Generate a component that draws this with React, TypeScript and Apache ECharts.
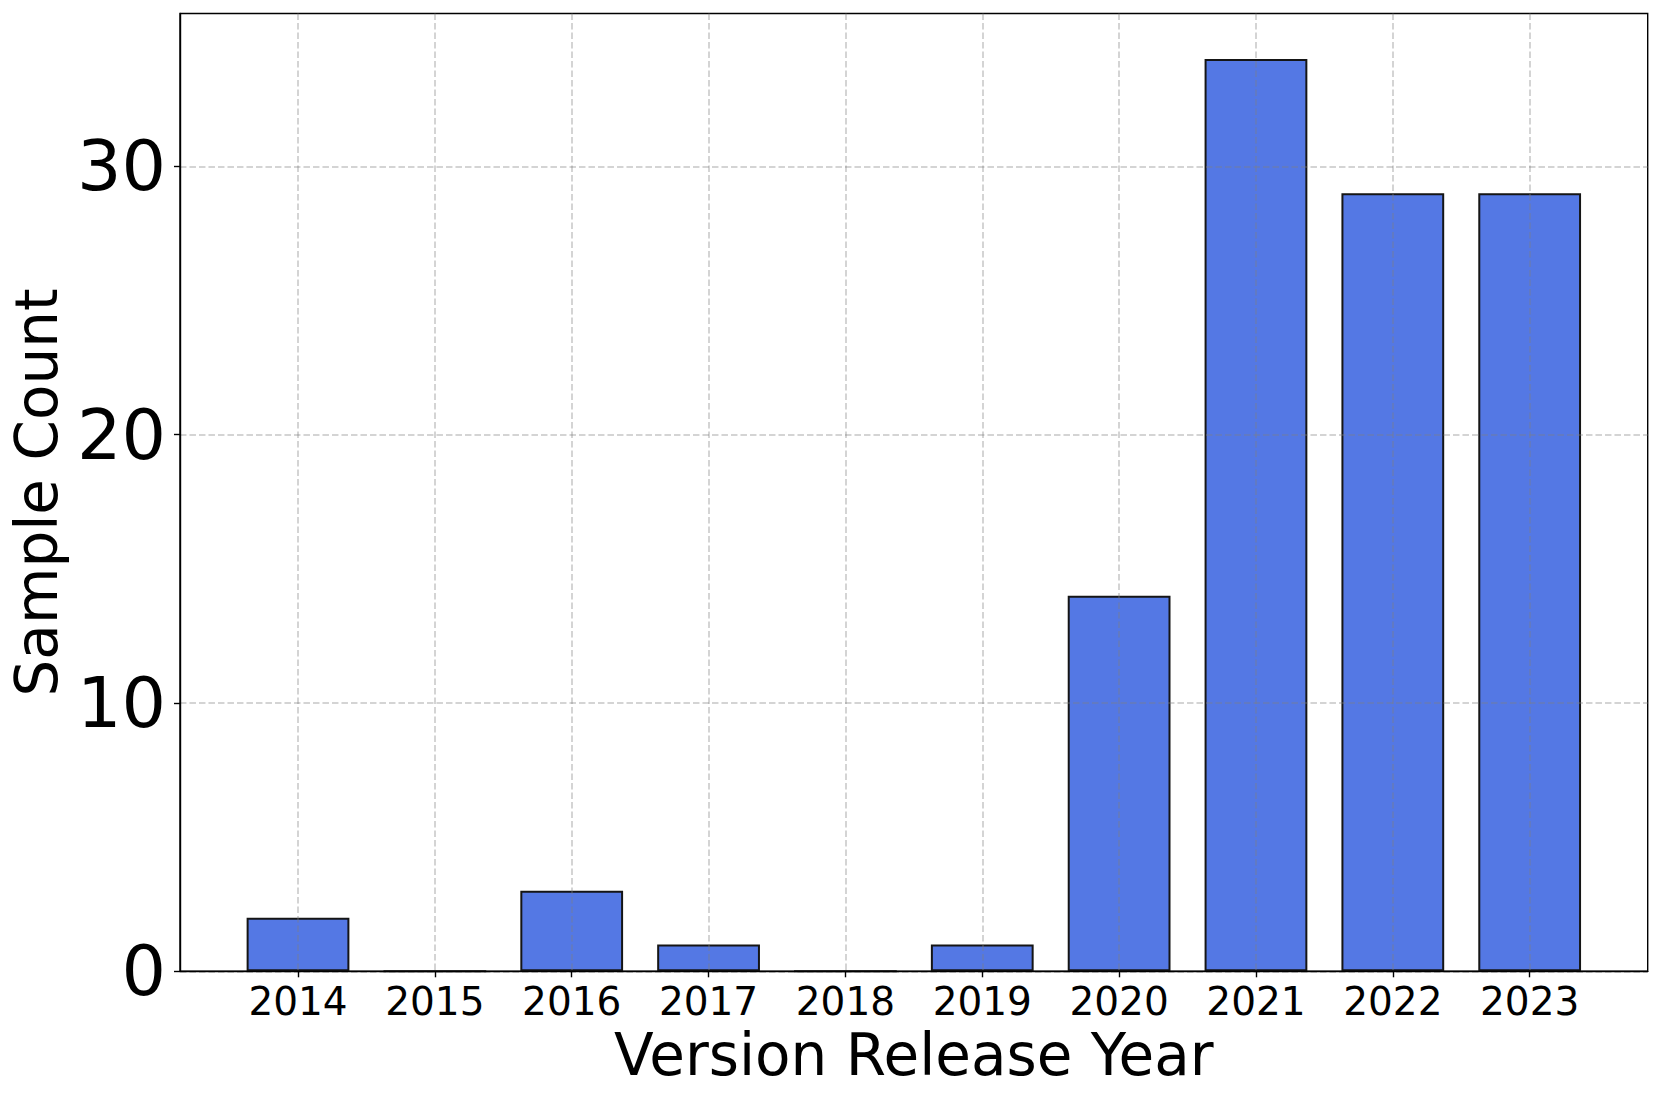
import React, { useEffect, useRef } from "react";
import * as echarts from "echarts";

const years = ["2014", "2015", "2016", "2017", "2018", "2019", "2020", "2021", "2022", "2023"];
const sampleCounts = [2, 0, 3, 1, 0, 1, 14, 34, 29, 29];
const yTicks = [0, 10, 20, 30];

const W = 1662;
const H = 1101;
const GRID_LEFT = 178;
const GRID_TOP = 13.5;
const GRID_W = 1469.7;
const GRID_H = 957.8;
const BAR_FRAC = 0.75;

export default function App() {
  const ref = useRef<HTMLDivElement>(null);
  useEffect(() => {
    if (!ref.current) return;
    const chart = echarts.init(ref.current, undefined, { renderer: "svg" });
    const n = years.length;
    const half = BAR_FRAC / 2;
    const span = (n - 1) + 2 * half;
    const xmin = -half - 0.05 * span;
    const xmax = n - 1 + half + 0.05 * span;
    const ymax = Math.max(...sampleCounts) * 1.05;
    const idx = years.map((_, i) => i);
    const font = "DejaVu Sans";
    const gridLine = {
      show: true,
      lineStyle: { color: "rgba(128,128,128,0.45)", width: 1.5, type: [6.5, 3] as any },
    };
    chart.setOption({
      animation: false,
      backgroundColor: "#ffffff",
      grid: {
        left: GRID_LEFT,
        top: GRID_TOP,
        width: GRID_W,
        height: GRID_H,
        containLabel: false,
        show: true,
        borderColor: "#000",
        borderWidth: 1.4,
        backgroundColor: "transparent",
      },
      xAxis: {
        type: "value",
        min: xmin,
        max: xmax,
        minInterval: 1,
        maxInterval: 1,
        z: 5,
        name: "Version Release Year",
        nameLocation: "middle",
        nameGap: 52,
        nameTextStyle: { fontFamily: font, fontSize: 58, color: "#000" },
        axisLine: { show: true, onZero: false, lineStyle: { color: "#000", width: 1.4 } },
        axisTick: { show: true, customValues: idx, length: 6, lineStyle: { color: "#000", width: 1.4 } },
        axisLabel: {
          customValues: idx,
          margin: 11,
          fontFamily: font,
          fontSize: 39,
          color: "#000",
          formatter: (v: number) => {
            const r = Math.round(v);
            return Math.abs(v - r) < 1e-6 && years[r] ? years[r] : "";
          },
        },
        splitLine: gridLine,
      },
      yAxis: {
        type: "value",
        min: 0,
        max: ymax,
        interval: 10,
        z: 5,
        name: "Sample Count",
        nameLocation: "middle",
        nameGap: 108,
        nameTextStyle: { fontFamily: font, fontSize: 58, color: "#000" },
        axisLine: { show: true, onZero: false, lineStyle: { color: "#000", width: 1.4 } },
        axisTick: { show: true, customValues: yTicks, length: 6, lineStyle: { color: "#000", width: 1.4 } },
        axisLabel: {
          customValues: yTicks,
          margin: 14,
          fontFamily: font,
          fontSize: 70,
          color: "#000",
        },
        splitLine: gridLine,
      },
      series: [
        {
          type: "bar",
          data: sampleCounts.map((v, i) => [i, v]),
          barWidth: (BAR_FRAC * GRID_W) / (xmax - xmin),
          itemStyle: { color: "rgb(84,120,228)", borderColor: "#151515", borderWidth: 2 },
          z: 1,
        },
      ],
    });
    return () => chart.dispose();
  }, []);
  return (
    <div
      ref={ref}
      style={{ position: "fixed", left: 0, top: 0, width: W, height: H, background: "#fff" }}
    />
  );
}
